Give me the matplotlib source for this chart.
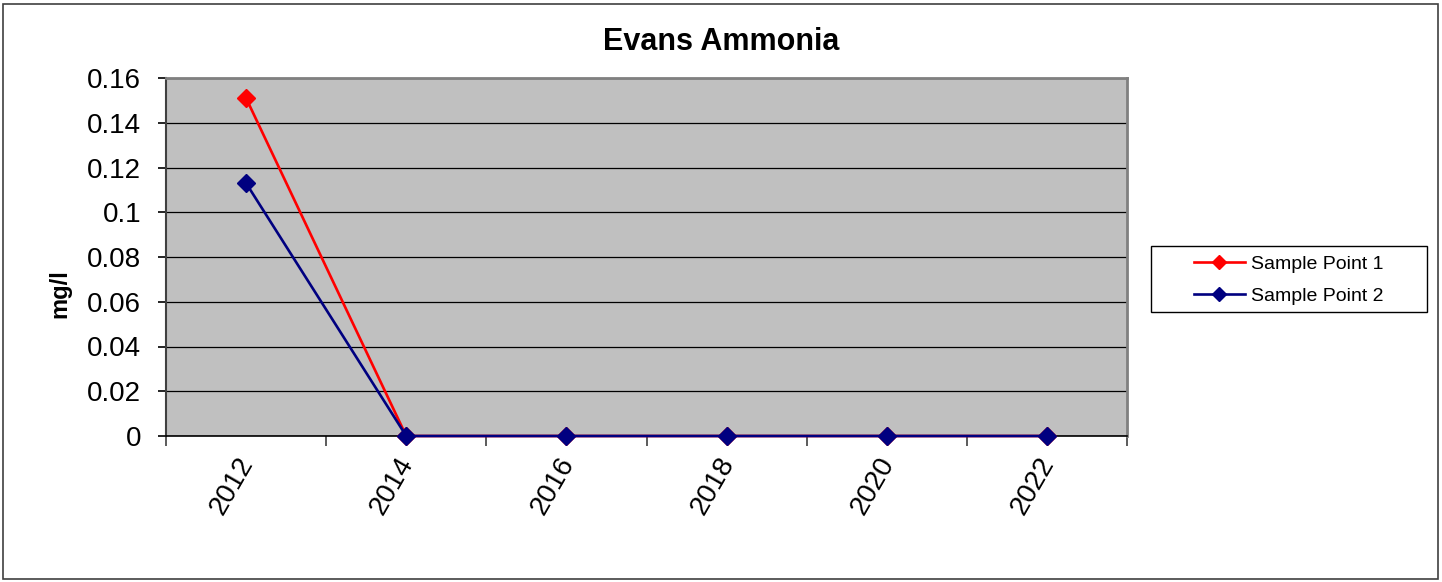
import matplotlib
matplotlib.use("Agg")
import matplotlib.pyplot as plt
from matplotlib.patches import Rectangle
from matplotlib.lines import Line2D
import matplotlib.transforms as mtransforms

plt.rcParams['font.family'] = ['Liberation Sans', 'DejaVu Sans']

categories = ["2012", "2014", "2016", "2018", "2020", "2022"]
sp1 = [0.151, 0, 0, 0, 0, 0]
sp2 = [0.113, 0, 0, 0, 0, 0]
yticks = [0, 0.02, 0.04, 0.06, 0.08, 0.1, 0.12, 0.14, 0.16]
ytick_labels = ["0", "0.02", "0.04", "0.06", "0.08", "0.1", "0.12", "0.14", "0.16"]
series_names = ["Sample Point 1", "Sample Point 2"]
colors = ["#FF0000", "#000080"]

W, H = 1442, 582
fig = plt.figure(figsize=(W / 100, H / 100), dpi=100)
ax = fig.add_axes([166 / W, 1 - 436 / H, (1127 - 166) / W, (436 - 78) / H])
ax.set_facecolor("#C0C0C0")

x = list(range(len(categories)))
for vals, c, name in zip([sp1, sp2], colors, series_names):
    ax.plot(x, vals, color=c, lw=1.9, marker="D", markersize=9,
            markerfacecolor=c, markeredgecolor=c, label=name, zorder=3,
            clip_on=False)

ax.set_xlim(-0.5, len(categories) - 0.5)
ax.set_ylim(0, 0.16)
ax.set_yticks(yticks)
ax.set_yticklabels(ytick_labels, fontsize=20)
ax.yaxis.grid(True, color="black", lw=0.9)
ax.set_axisbelow(True)

ax.set_xticks([i - 0.5 for i in range(len(categories) + 1)])
ax.set_xticklabels([])
ax.set_xticks(x, minor=True)
ax.set_xticklabels(categories, minor=True, fontsize=20, rotation=60,
                   ha="right", va="top")
ax.tick_params(axis="x", which="minor", length=0, pad=12)
ax.tick_params(axis="x", which="major", length=7, width=1.2, color="#404040", direction="out")
ax.tick_params(axis="y", length=6, width=1.2, direction="out", pad=12)
offset = mtransforms.ScaledTranslation(13 / 100, 0, fig.dpi_scale_trans)
for lbl in ax.get_xticklabels(minor=True):
    lbl.set_transform(lbl.get_transform() + offset)

for s in ["top", "right"]:
    ax.spines[s].set_color("#808080")
    ax.spines[s].set_linewidth(2)
ax.spines["left"].set_color("#404040")
ax.spines["left"].set_linewidth(1.5)
ax.spines["bottom"].set_color("black")
ax.spines["bottom"].set_linewidth(1.2)

fig.text(721 / W, 1 - 42 / H, "Evans Ammonia", ha="center", va="center",
         fontsize=22, fontweight="bold")
fig.text(60 / W, 1 - 294 / H, "mg/l", ha="center", va="center",
         fontsize=17, fontweight="bold", rotation=90)

# outer border
fig.patches.append(Rectangle((3 / W, 3 / H), (W - 7) / W, (H - 7) / H,
                             transform=fig.transFigure, fill=False,
                             edgecolor="#404040", lw=1.2))
# legend box
fig.patches.append(Rectangle((1151 / W, 1 - 312 / H), (1427 - 1151) / W, (312 - 246) / H,
                             transform=fig.transFigure, fill=False,
                             edgecolor="black", lw=1.0))
handles = [Line2D([], [], color=c, lw=1.9, marker="D", markersize=7,
                  markerfacecolor=c, markeredgecolor=c) for c in colors]
fig.legend(handles, series_names, loc="center", bbox_to_anchor=(1289 / W, 1 - 280 / H),
           frameon=False, fontsize=14, handlelength=2.6, handletextpad=0.35,
           labelspacing=0.75, borderpad=0)

fig.savefig("out.png", dpi=100)
